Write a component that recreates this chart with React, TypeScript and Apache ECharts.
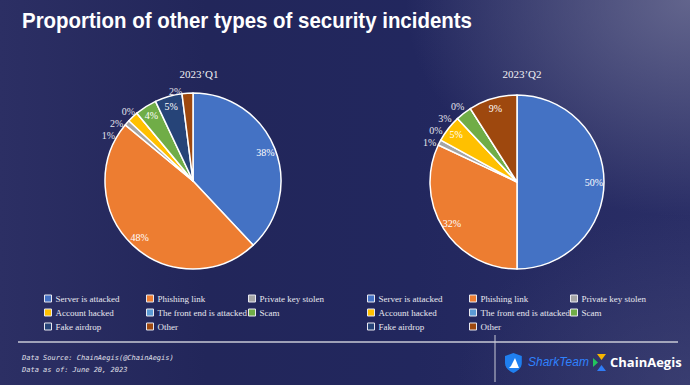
import React, { useEffect, useRef } from "react";
import * as echarts from "echarts";

const categories = [
  "Server is attacked",
  "Phishing link",
  "Private key stolen",
  "Account hacked",
  "The front end is attacked",
  "Scam",
  "Fake airdrop",
  "Other",
];
const colors = ["#4472C4", "#ED7D31", "#A5A5A5", "#FFC000", "#5B9BD5", "#70AD47", "#264478", "#9E480E"];
const q1Values = [38, 48, 1, 2, 0, 4, 5, 2];
const q2Values = [50, 32, 1, 5, 0, 3, 0, 9];
const pieTitles = ["2023\u2019Q1", "2023\u2019Q2"];
const chartTitle = "Proportion of other types of security incidents";
const footerLines = ["Data Source: ChainAegis(@ChainAegis)", "Data as of: June 20, 2023"];
const legendColumns = [
  ["Server is attacked", "Account hacked", "Fake airdrop"],
  ["Phishing link", "The front end is attacked", "Other"],
  ["Private key stolen", "Scam"],
];

const SERIF = "'Liberation Serif', 'DejaVu Serif', serif";

function buildSeries(values: number[], center: [number, number], radius: number, idx: number) {
  const main = {
    type: "pie",
    name: "main" + idx,
    center,
    radius,
    startAngle: 90,
    clockwise: true,
    minAngle: 0,
    stillShowZeroSum: true,
    label: { show: false },
    labelLine: { show: false },
    itemStyle: { borderColor: "#ffffff", borderWidth: 1.5 },
    data: categories.map((c, i) => ({ name: c, value: values[i], itemStyle: { color: colors[i] } })),
  };
  const labels = {
    type: "pie",
    name: "label" + idx,
    center,
    radius: [radius * 0.7, radius],
    startAngle: 90,
    clockwise: true,
    silent: true,
    avoidLabelOverlap: true,
    stillShowZeroSum: true,
    itemStyle: { color: "rgba(0,0,0,0)", borderWidth: 0 },
    labelLine: { show: false, length: 2, length2: 0 },
    data: categories.map((c, i) => {
      const inside = values[i] >= 4 && !(idx === 1 && i === 5);
      return {
        name: c,
        value: values[i],
        itemStyle: { color: "rgba(0,0,0,0)" },
        label: {
          show: true,
          position: inside ? "inside" : "outside",
          formatter: () => values[i] + "%",
          color: inside ? "#ffffff" : "#e4e4ec",
          fontFamily: SERIF,
          fontSize: 10,
        },
      };
    }),
  };
  return [main, labels];
}

function legends(xs: number[]) {
  return legendColumns.map((col, ci) => ({
    orient: "vertical",
    left: xs[ci],
    top: 292,
    data: col,
    icon: "rect",
    itemWidth: 7,
    itemHeight: 7,
    itemGap: 1,
    padding: 0,
    selectedMode: false,
    itemStyle: { borderColor: "#e8e8f0", borderWidth: 1 },
    textStyle: { color: "#e8e8f0", fontFamily: SERIF, fontSize: 9, lineHeight: 13, padding: [0, 0, 0, -1] },
  }));
}

export default function App() {
  const ref = useRef<HTMLDivElement>(null);
  useEffect(() => {
    if (!ref.current) return;
    echarts.graphic.registerShape(
      "shield",
      echarts.graphic.extendPath("M8 0 L16 3 L16 10 C16 15 12 18 8 20 C4 18 0 15 0 10 L0 3 Z", {})
    );
    const chart = echarts.init(ref.current, null, { renderer: "svg" });
    const option: any = {
      animation: false,
      backgroundColor: "transparent",
      color: colors,
      title: [
        {
          text: pieTitles[0],
          left: 194,
          top: 63,
          textAlign: "center",
          textStyle: { color: "#f0f0f4", fontFamily: SERIF, fontSize: 11, fontWeight: "normal" },
        },
        {
          text: pieTitles[1],
          left: 517,
          top: 63,
          textAlign: "center",
          textStyle: { color: "#f0f0f4", fontFamily: SERIF, fontSize: 11, fontWeight: "normal" },
        },
      ],
      legend: [...legends([44, 146, 248]), ...legends([367, 469, 570])],
      series: [
        ...buildSeries(q1Values, [193, 181], 88, 0),
        ...buildSeries(q2Values, [517, 182], 87, 1),
      ],
      graphic: [
        {
          type: "text",
          x: 22,
          y: 10,
          scaleX: 0.93,
          style: {
            text: chartTitle,
            fill: "#ffffff",
            font: "bold 22px 'Liberation Sans', sans-serif",
          },
        },
        { type: "line", shape: { x1: 18, y1: 342, x2: 678, y2: 342 }, style: { stroke: "#c9cad6", lineWidth: 1.5 } },
        { type: "line", shape: { x1: 495, y1: 335, x2: 495, y2: 382 }, style: { stroke: "#c9cad6", lineWidth: 1 } },
        {
          type: "text",
          x: 22,
          y: 354,
          style: {
            text: footerLines[0],
            fill: "#e0e0ea",
            font: "italic 7px 'DejaVu Sans Mono', monospace",
          },
        },
        {
          type: "text",
          x: 22,
          y: 366,
          style: {
            text: footerLines[1],
            fill: "#e0e0ea",
            font: "italic 7px 'DejaVu Sans Mono', monospace",
          },
        },
        { type: "shield", x: 505, y: 353, scaleX: 1.05, scaleY: 1.0, style: { fill: "#1f7ff0" } },
        { type: "polygon", shape: { points: [[509, 368], [519, 368], [515, 358], [511, 366]] }, style: { fill: "#ffffff" } },
        {
          type: "text",
          x: 528,
          y: 356,
          style: { text: "SharkTeam", fill: "#2f82ff", font: "italic 12px 'Liberation Sans', sans-serif" },
        },
        { type: "polygon", shape: { points: [[597, 354], [606, 354], [601.5, 360]] }, style: { fill: "#f7b500" } },
        { type: "polygon", shape: { points: [[593, 358], [593, 367], [598, 362.5]] }, style: { fill: "#22c55e" } },
        { type: "polygon", shape: { points: [[601.5, 365], [597, 371], [606, 371]] }, style: { fill: "#2f7cf6" } },
        {
          type: "text",
          x: 610,
          y: 355,
          style: { text: "ChainAegis", fill: "#ffffff", font: "bold 13px 'Open Sans', sans-serif" },
        },
      ],
    };
    chart.setOption(option);
    return () => chart.dispose();
  }, []);
  return (
    <div
      style={{
        position: "fixed",
        left: 0,
        top: 0,
        width: 690,
        height: 385,
        background:
          "radial-gradient(ellipse 55% 75% at 100% 0%, rgba(112,114,150,0.8), rgba(112,114,150,0) 75%), radial-gradient(ellipse 45% 60% at 100% 100%, rgba(72,76,122,0.5), rgba(72,76,122,0) 75%), linear-gradient(90deg, #2c2f64 0%, #22265a 30%, #22275e 60%, #2a2e66 100%)",
      }}
    >
      <div ref={ref} style={{ width: 690, height: 385 }} />
    </div>
  );
}
